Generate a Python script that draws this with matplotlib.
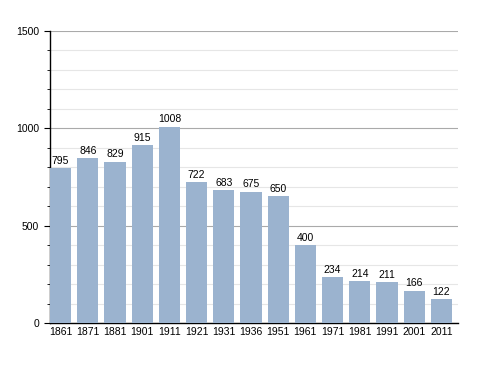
import matplotlib.pyplot as plt
import numpy as np

plt.rcParams['font.family'] = ['Liberation Sans', 'DejaVu Sans']

years = ['1861', '1871', '1881', '1901', '1911', '1921', '1931', '1936',
         '1951', '1961', '1971', '1981', '1991', '2001', '2011']
population = [795, 846, 829, 915, 1008, 722, 683, 675, 650, 400, 234, 214, 211, 166, 122]


def main():
    fig = plt.figure(figsize=(4.88, 3.73), dpi=100)
    ax = fig.add_axes([50 / 488, 1 - 323 / 373, 408 / 488, 292 / 373])

    x = np.arange(len(years))
    ax.bar(x, population, width=0.78, color='#9bb3cf', zorder=3)
    for xi, v in zip(x, population):
        ax.text(xi, v + 12, str(v), ha='center', va='bottom', fontsize=7.5, zorder=4)

    ax.set_xlim(-0.386, 14.61)
    ax.set_ylim(0, 1500)
    ax.set_yticks([0, 500, 1000, 1500])
    ax.set_yticks(np.arange(0, 1501, 100), minor=True)
    ax.grid(axis='y', which='major', color='#aaaaaa', linewidth=0.8, zorder=0)
    ax.grid(axis='y', which='minor', color='#e6e6e6', linewidth=0.8, zorder=0)
    ax.set_xticks(x)
    ax.set_xticklabels(years)
    ax.tick_params(axis='x', length=0, labelsize=7.5, pad=3)
    ax.tick_params(axis='y', which='major', length=4, labelsize=7.5, pad=4)
    ax.tick_params(axis='y', which='minor', length=2)

    for s in ['top', 'right']:
        ax.spines[s].set_visible(False)
    ax.spines['left'].set_linewidth(1.0)
    ax.spines['bottom'].set_linewidth(1.0)

    plt.savefig('out.png', dpi=100)


if __name__ == "__main__":
    main()
